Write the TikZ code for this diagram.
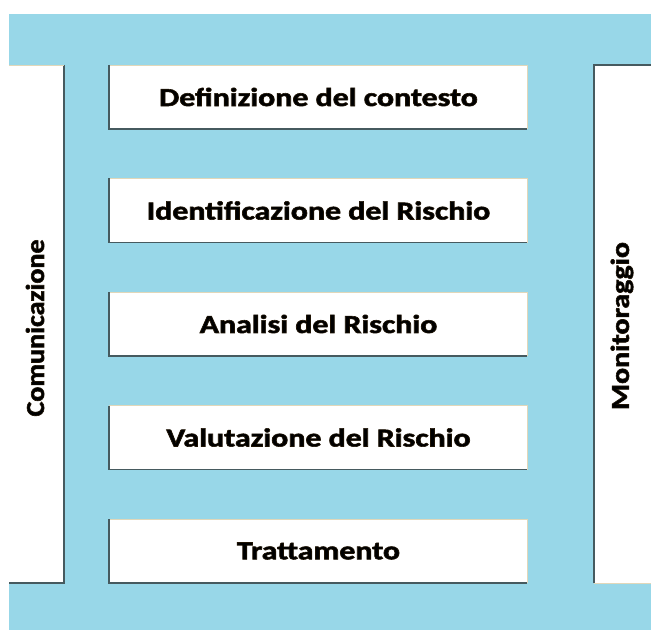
\documentclass[tikz,border=0pt]{standalone}
\usepackage{fontspec}
\setmainfont{Carlito}
\definecolor{bgblue}{RGB}{152,215,232}
\definecolor{edgedark}{RGB}{70,90,95}
\definecolor{edgelight}{RGB}{225,215,185}
\newcommand{\gtext}[1]{\special{pdf:literal direct 2 Tr 0.6 w 0.12 0.08 0.02 RG}#1\special{pdf:literal direct 0 Tr}}
\begin{document}
\begin{tikzpicture}[x=1bp,y=-1bp,
  lbl/.style={font=\fontsize{26}{30}\selectfont\bfseries,text=black,inner sep=0pt}]
\useasboundingbox (0,0) rectangle (651,630);
\fill[bgblue] (9,14) rectangle (651,630);
% side panels
\fill[white] (9,65) rectangle (64,583);
\draw[edgedark,line width=1.2bp] (64,65) -- (64,583) -- (9,583);
\draw[edgelight,line width=0.8bp] (9,65) -- (64,65);
\fill[white] (594,65) rectangle (651,583);
\draw[edgedark,line width=1.2bp] (594,583) -- (594,65) -- (651,65);
\draw[edgelight,line width=0.8bp] (594,583) -- (651,583);
\node[lbl,rotate=90,xscale=1.08] (com) at (35,328) {\gtext{Comunicazione}};
\node[lbl,rotate=90,xscale=1.15] (mon) at (622,326) {\gtext{Monitoraggio}};
% boxes
\foreach \i/\t in {0/Definizione del contesto,1/Identificazione del Rischio,2/Analisi del Rischio,3/Valutazione del Rischio,4/Trattamento}{
  \pgfmathsetmacro{\yt}{65+113.5*\i}
  \fill[white] (109,\yt) rectangle (527,\yt+64);
  \draw[edgelight,line width=0.8bp] (109,\yt) -- (527,\yt) -- (527,\yt+64);
  \draw[edgedark,line width=1.2bp] (109,\yt) -- (109,\yt+64) -- (527,\yt+64);
  \node[lbl,xscale=1.23] (b\i) at (318.5,\yt+32) {\gtext{\t}};
}
\end{tikzpicture}
\end{document}
